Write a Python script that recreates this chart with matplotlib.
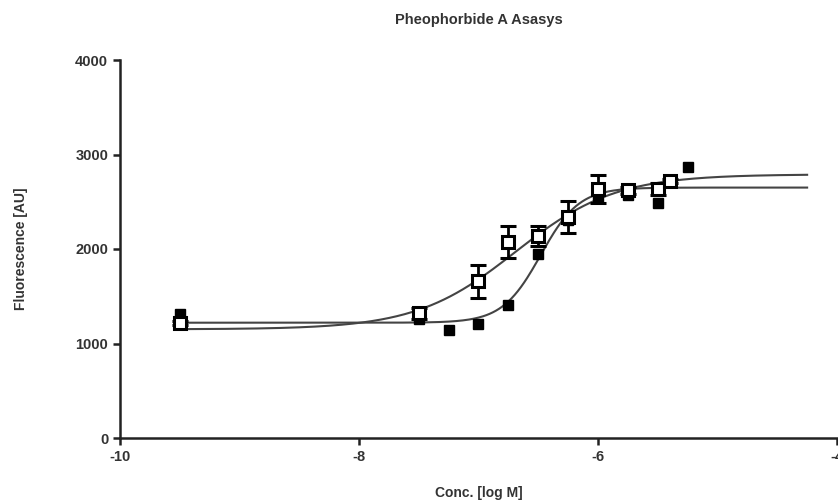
import numpy as np
import matplotlib
matplotlib.use("Agg")
import matplotlib.pyplot as plt

# ---- data ----
open_x = [-9.5, -7.5, -7.0, -6.75, -6.5, -6.25, -6.0, -5.75, -5.5, -5.4]
open_y = [1217, 1320, 1660, 2071, 2141, 2340, 2635, 2620, 2635, 2723]
open_err = [20, 60, 175, 170, 107, 170, 150, 40, 60, 20]

filled_x = [-9.5, -7.5, -7.25, -7.0, -6.75, -6.5, -6.25, -6.0, -5.75, -5.5, -5.25]
filled_y = [1312, 1260, 1143, 1206, 1407, 1943, 2307, 2536, 2575, 2483, 2865]

# fitted sigmoid parameters (bottom, top, logEC50, hill)
open_fit = [1150, 2790, -6.69, 1.04]
filled_fit = [1220, 2650, -6.48, 2.7]
curve_range = [-9.5, -4.25]

xticks = [-10, -8, -6, -4]
yticks = [0, 1000, 2000, 3000, 4000]

title = "Pheophorbide A Asasys"
xlabel = "Conc. [log M]"
ylabel = "Fluorescence [AU]"


def sigmoid(x, p):
    b, t, ec, h = p
    return b + (t - b) / (1 + 10 ** ((ec - x) * h))


plt.rcParams['font.family'] = ['Liberation Sans', 'DejaVu Sans']

fig = plt.figure(figsize=(8.38, 5.03), dpi=100)
ax = fig.add_axes([120 / 838, 1 - 438 / 503, 717 / 838, 378 / 503])

xs = np.linspace(curve_range[0], curve_range[1], 400)
ax.plot(xs, sigmoid(xs, open_fit), color='#444444', lw=1.5, zorder=2)
ax.plot(xs, sigmoid(xs, filled_fit), color='#444444', lw=1.5, zorder=2)

ax.plot(filled_x, filled_y, 's', color='black', ms=7, zorder=3, linestyle='none')
ax.errorbar(open_x, open_y, yerr=open_err, fmt='s', ms=8, mfc='white', mec='black',
            mew=2.2, ecolor='black', elinewidth=2, capsize=6, capthick=2, zorder=4)

ax.set_xlim(-10, -4)
ax.set_ylim(0, 4000)
ax.set_xticks(xticks)
ax.set_yticks(yticks)
ax.set_xticklabels([str(t) for t in xticks])
ax.set_yticklabels([str(t) for t in yticks])

for s in ['top', 'right']:
    ax.spines[s].set_visible(False)
for s in ['left', 'bottom']:
    ax.spines[s].set_linewidth(1.8)
    ax.spines[s].set_color('#222222')
ax.tick_params(direction='out', length=5, width=1.8, colors='#222222', labelsize=10.5)
for lab in ax.get_xticklabels() + ax.get_yticklabels():
    lab.set_fontweight('bold')
    lab.set_color('#333333')

ax.set_title(title, fontsize=10.5, fontweight='bold', color='#333333', pad=26)
ax.set_xlabel(xlabel, fontsize=10, fontweight='bold', color='#333333', labelpad=16)
ax.set_ylabel(ylabel, fontsize=10, fontweight='bold', color='#333333', labelpad=34)

fig.savefig('out.png', dpi=100)
